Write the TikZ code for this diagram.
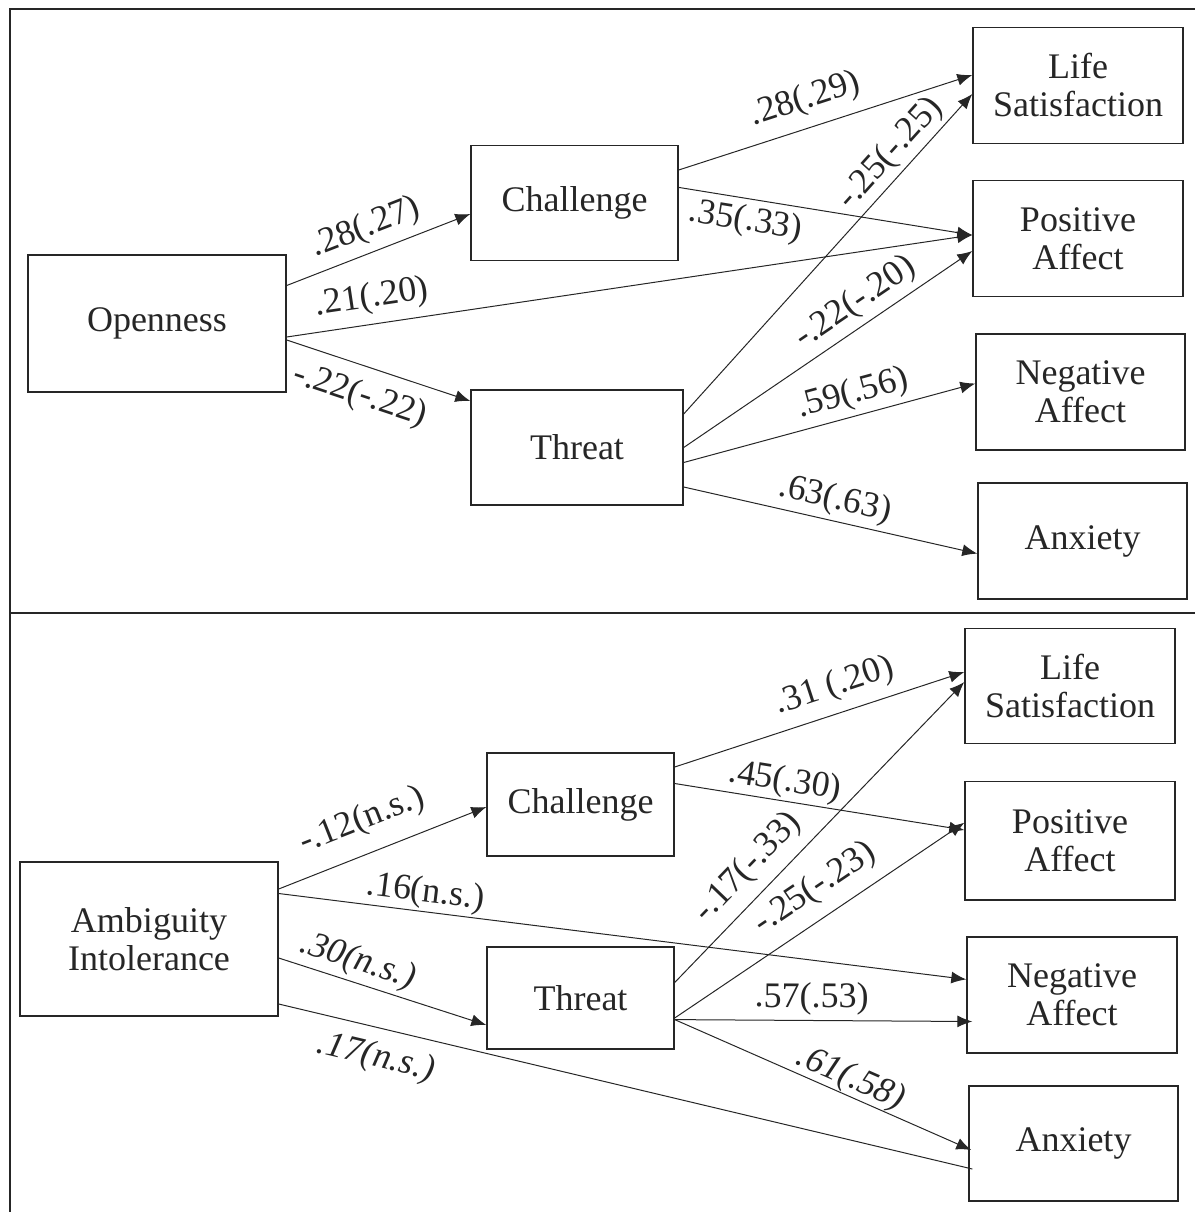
\documentclass[tikz,border=0pt]{standalone}
\usepackage{fontspec}
\setmainfont{Liberation Serif}
\usetikzlibrary{arrows.meta}

\tikzset{
  var/.style={draw, line width=0.7pt, minimum width=105pt, minimum height=58pt,
    align=center, inner sep=0pt, font=\fontsize{18}{19}\selectfont},
  coef/.style={sloped, inner sep=3pt, font=\fontsize{18}{19}\selectfont}
}

\begin{document}
\begin{tikzpicture}[auto, x=0.5pt, y=-0.5pt, color=black!85, line width=0.5pt,
    >={Latex[length=7.5pt,width=6pt]}]
\useasboundingbox (0,0) rectangle (1195,1212);
% frame
\draw[line width=0.8pt] (10,1212) -- (10,9) -- (1195,9);
\draw[line width=0.8pt] (10,613) -- (1195,613);

% openness model
\node[var, minimum width=129pt, minimum height=68.5pt] (open) at (157,323.5) {Openness};
\node[var, minimum width=103.5pt, minimum height=57.75pt] (ch1) at (574.5,203) {Challenge};
\node[var, minimum width=106pt, minimum height=57.5pt] (th1) at (577,447.5) {Threat};
\node[var] (ls1) at (1078,85.4) {Life\\Satisfaction};
\node[var] (pa1) at (1078,238.6) {Positive\\Affect};
\node[var, minimum width=104.5pt] (na1) at (1080.5,392) {Negative\\Affect};
\node[var, minimum width=104.5pt] (ax1) at (1082.5,541) {Anxiety};

\draw[->] ([yshift=19pt]open.east) to node[coef, pos=0.48, inner sep=4pt] {.28(.27)} ([yshift=-5.5pt]ch1.west);
\draw[->] ([yshift=-6.75pt]open.east) to node[coef, pos=0.13, inner sep=4.5pt] {.21(.20)} ([yshift=1.8pt]pa1.west);
\draw[->] ([yshift=-8.25pt]open.east) to node[coef, swap, pos=0.45, inner sep=6.5pt] {-.22(-.22)} ([yshift=23.25pt]th1.west);
\draw[->] ([yshift=16.5pt]ch1.east) to node[coef, pos=0.46, inner sep=5.5pt] {.28(.29)} ([yshift=5.2pt]ls1.west);
\draw[->] ([yshift=7.8pt]ch1.east) to node[coef, swap, pos=0.24] {.35(.33)} ([yshift=1.8pt]pa1.west);
\draw[->] ([yshift=16.75pt]th1.east) to node[coef, pos=0.77, inner sep=2pt] {-.25(-.25)} ([yshift=-4.3pt]ls1.west);
\draw[->] (th1.east) to node[coef, pos=0.64] {-.22(-.20)} ([yshift=-6.2pt]pa1.west);
\draw[->] ([yshift=-7.5pt]th1.east) to node[coef, pos=0.6, inner sep=2.5pt] {.59(.56)} ([yshift=4.25pt]na1.west);
\draw[->] ([yshift=-19.75pt]th1.east) to node[coef, pos=0.5, inner sep=2pt] {.63(.63)} ([yshift=-6.3pt]ax1.west);

% ambiguity model
\node[var, minimum width=129pt, minimum height=77pt] (amb) at (149,939) {Ambiguity\\Intolerance};
\node[var, minimum width=93.5pt, minimum height=51.5pt] (ch2) at (580.5,804.5) {Challenge};
\node[var, minimum width=93.5pt, minimum height=51pt] (th2) at (580.5,998) {Threat};
\node[var, minimum height=57.75pt] (ls2) at (1070,686) {Life\\Satisfaction};
\node[var, minimum height=59.25pt] (pa2) at (1070,840.7) {Positive\\Affect};
\node[var] (na2) at (1072,995) {Negative\\Affect};
\node[var, minimum width=104.5pt, minimum height=57.5pt] (ax2) at (1073.5,1143.5) {Anxiety};

\draw[->] ([yshift=25pt]amb.east) to node[coef, pos=0.46, inner sep=8pt] {-.12(n.s.)} ([yshift=-1.25pt]ch2.west);
\draw[->] ([yshift=22.75pt]amb.east) to node[coef, pos=0.21, inner sep=1pt] {.16(n.s.)} ([yshift=7.8pt]na2.west);
\draw[->] ([yshift=-9.5pt]amb.east) to node[coef, pos=0.35, inner sep=2.2pt] {\textit{.30(n.s.)}} ([yshift=-13.5pt]th2.west);
\draw ([yshift=-32.5pt]amb.east) to node[coef, swap, pos=0.15, inner sep=6.5pt] {\textit{.17(n.s.)}} ([xshift=2pt,yshift=-12.75pt]ax2.west);
\draw[->] ([yshift=18.75pt]ch2.east) to node[coef, pos=0.58, inner sep=5pt] {.31 (.20)} ([yshift=7pt]ls2.west);
\draw[->] ([yshift=10.5pt]ch2.east) to node[coef, pos=0.37, inner sep=1pt] {.45(.30)} ([yshift=5.35pt]pa2.west);
\draw[->] ([yshift=7.75pt]th2.east) to node[coef, pos=0.32, inner sep=5pt] {-.17(-.33)} ([yshift=2pt]ls2.west);
\draw[->] ([yshift=-10pt]th2.east) to node[coef, pos=0.54, inner sep=6pt] {-.25(-.23)} ([yshift=9pt]pa2.west);
\draw[->] ([yshift=-10.8pt]th2.east) to node[coef, pos=0.46, inner sep=2.5pt] {.57(.53)} ([xshift=3pt,yshift=-13.25pt]na2.west);
\draw[->] ([yshift=-10.8pt]th2.east) to node[coef, pos=0.57, inner sep=0pt] {\textit{.61(.58)}} ([xshift=1.5pt,yshift=-3.25pt]ax2.west);
\end{tikzpicture}
\end{document}
